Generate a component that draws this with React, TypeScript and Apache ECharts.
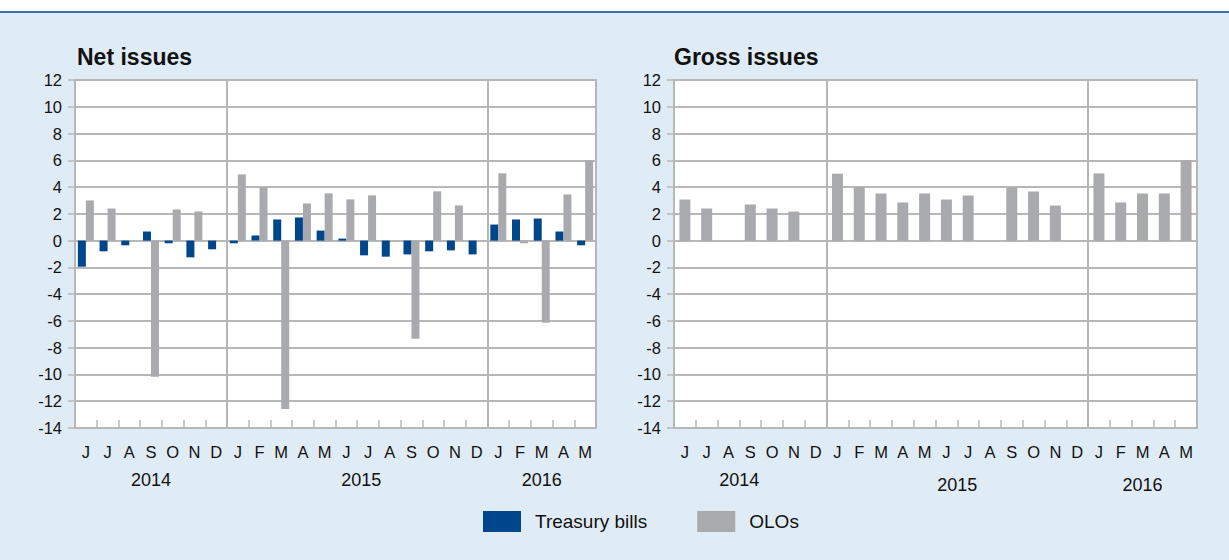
import React, { useEffect, useRef } from "react";
import * as echarts from "echarts";

// Monthly categories, June 2014 – May 2016
const months = [
  "Jun 2014", "Jul 2014", "Aug 2014", "Sep 2014", "Oct 2014", "Nov 2014", "Dec 2014",
  "Jan 2015", "Feb 2015", "Mar 2015", "Apr 2015", "May 2015", "Jun 2015",
  "Jul 2015", "Aug 2015", "Sep 2015", "Oct 2015", "Nov 2015", "Dec 2015",
  "Jan 2016", "Feb 2016", "Mar 2016", "Apr 2016", "May 2016",
];
const years = ["2014", "2015", "2016"];
const monthsPerYear = [7, 12, 5];

// Net issues (EUR billion)
const netTreasuryBills = [
  -1.95, -0.8, -0.35, 0.68, -0.2, -1.25, -0.65,
  -0.2, 0.38, 1.58, 1.73, 0.75, 0.15, -1.1, -1.2, -1.03, -0.8, -0.73, -1.03,
  1.2, 1.58, 1.65, 0.68, -0.35,
];
const netOlos = [
  3.0, 2.4, null, -10.18, 2.33, 2.18, null,
  4.95, 3.98, -12.58, 2.78, 3.53, 3.08, 3.38, null, -7.33, 3.68, 2.63, null,
  5.03, -0.2, -6.13, 3.45, 6.0,
];

// Gross issues (EUR billion)
const grossOlos = [
  3.07, 2.4, null, 2.7, 2.4, 2.17, null,
  5.0, 4.0, 3.52, 2.85, 3.52, 3.07, 3.37, null, 3.97, 3.67, 2.62, null,
  5.02, 2.85, 3.52, 3.52, 6.0,
];

const yTicks = { min: -14, max: 12, interval: 2 };

const BLUE = "#00468b";
const GREY = "#a9aaae";
const LINE = "#b7b7b7";
const BG = "#e0ecf5";
const TEXT = "#111111";
const FONT = "'Liberation Sans', Arial, Helvetica, sans-serif";

// Year boundaries and year-label centres, in month units along the axis
function yearLayout(counts: number[]) {
  let start = 0;
  const centres: number[] = [];
  const bounds: number[] = [];
  counts.forEach((c, i) => {
    centres.push(start + c / 2);
    start += c;
    if (i < counts.length - 1) bounds.push(start);
  });
  return { centres, bounds };
}

export default function App() {
  const ref = useRef<HTMLDivElement>(null);

  useEffect(() => {
    if (!ref.current) return;
    const chart = echarts.init(ref.current, undefined, { renderer: "svg" });
    const { centres, bounds } = yearLayout(monthsPerYear);
    const total = months.length;

    const grids = [
      { left: 75, top: 80, width: 521, height: 348 },
      { left: 674, top: 80, width: 523, height: 348 },
    ];

    const yAxisFor = (gridIndex: number) => ({
      type: "value",
      gridIndex,
      min: yTicks.min,
      max: yTicks.max,
      interval: yTicks.interval,
      axisLine: { show: true, lineStyle: { color: LINE, width: 2 } },
      axisTick: { show: true, length: 7, lineStyle: { color: LINE, width: 1.5 } },
      axisLabel: { color: TEXT, fontSize: 16.5, fontFamily: FONT, margin: 13 },
      splitLine: { show: true, lineStyle: { color: LINE, width: 2 } },
    });

    const monthAxisFor = (gridIndex: number) => ({
      type: "category",
      gridIndex,
      data: months,
      position: "bottom",
      axisLine: { show: true, onZero: false, lineStyle: { color: LINE, width: 2 } },
      axisTick: { show: true, inside: true, length: 8, interval: 0, lineStyle: { color: LINE, width: 1.5 } },
      axisLabel: {
        interval: 0,
        color: TEXT,
        fontSize: 16.5,
        fontFamily: FONT,
        margin: 15,
        formatter: (v: string) => v.charAt(0),
      },
      splitLine: { show: false },
    });

    const yearAxisFor = (gridIndex: number, rich: Record<string, any>) => ({
      type: "value",
      gridIndex,
      min: 0,
      max: total,
      interval: 0.5,
      position: "bottom",
      axisLine: { show: false, onZero: false },
      axisTick: { show: false },
      splitLine: { show: false },
      axisLabel: {
        color: TEXT,
        fontSize: 18,
        fontFamily: FONT,
        margin: 43,
        showMinLabel: true,
        showMaxLabel: true,
        formatter: (v: number) => {
          const i = centres.findIndex((c) => Math.abs(c - v) < 1e-6);
          return i < 0 ? "" : `{y${i}|${years[i]}}`;
        },
        rich,
      },
    });

    const yr = { color: TEXT, fontSize: 18, fontFamily: FONT };
    const separators = (xAxisIndex: number, yAxisIndex: number) => ({
      type: "line",
      xAxisIndex,
      yAxisIndex,
      data: [],
      silent: true,
      markLine: {
        silent: true,
        symbol: "none",
        label: { show: false },
        lineStyle: { color: LINE, width: 2, type: "solid" },
        data: bounds.map((b) => ({ xAxis: b })),
      },
    });

    chart.setOption({
      animation: false,
      backgroundColor: BG,
      textStyle: { fontFamily: FONT },
      graphic: [
        { type: "rect", shape: { x: 0, y: 0, width: 1229, height: 11 }, style: { fill: "#ffffff" }, silent: true },
        { type: "rect", shape: { x: 0, y: 11, width: 1229, height: 2 }, style: { fill: "#3d72a9" }, silent: true },
      ],
      title: [
        {
          text: "Net issues",
          left: 77,
          top: 45,
          padding: 0,
          textStyle: { color: TEXT, fontSize: 23, fontWeight: "bold", fontFamily: FONT },
        },
        {
          text: "Gross issues",
          left: 674,
          top: 45,
          padding: 0,
          textStyle: { color: TEXT, fontSize: 23, fontWeight: "bold", fontFamily: FONT },
        },
      ],
      legend: {
        data: ["Treasury bills", "OLOs"],
        left: 483,
        top: 511,
        padding: 0,
        itemWidth: 38,
        itemHeight: 21,
        itemGap: 50,
        icon: "rect",
        selectedMode: false,
        textStyle: { color: TEXT, fontSize: 19, fontFamily: FONT, padding: [0, 0, 0, 9] },
      },
      grid: grids.map((g) => ({
        ...g,
        show: true,
        backgroundColor: "#ffffff",
        borderColor: LINE,
        borderWidth: 2,
        containLabel: false,
      })),
      xAxis: [
        monthAxisFor(0),
        yearAxisFor(0, { y0: yr, y1: { ...yr, padding: [0, 0, 0, 8] }, y2: yr }),
        monthAxisFor(1),
        yearAxisFor(1, {
          y0: { ...yr, padding: [0, 22, 0, 0] },
          y1: { ...yr, padding: [5, 0, 0, 0] },
          y2: { ...yr, padding: [5, 0, 0, 0] },
        }),
      ],
      yAxis: [yAxisFor(0), yAxisFor(1)],
      series: [
        {
          name: "Treasury bills",
          type: "bar",
          xAxisIndex: 0,
          yAxisIndex: 0,
          data: netTreasuryBills,
          barWidth: 8,
          barGap: "0%",
          itemStyle: { color: BLUE },
        },
        {
          name: "OLOs",
          type: "bar",
          xAxisIndex: 0,
          yAxisIndex: 0,
          data: netOlos,
          barWidth: 8,
          barGap: "0%",
          itemStyle: { color: GREY },
        },
        {
          name: "OLOs",
          type: "bar",
          xAxisIndex: 2,
          yAxisIndex: 1,
          data: grossOlos,
          barWidth: 11,
          itemStyle: { color: GREY },
        },
        separators(1, 0),
        separators(3, 1),
      ],
    });

    return () => chart.dispose();
  }, []);

  return (
    <div
      ref={ref}
      style={{ position: "absolute", left: 0, top: 0, width: 1229, height: 560 }}
    />
  );
}
